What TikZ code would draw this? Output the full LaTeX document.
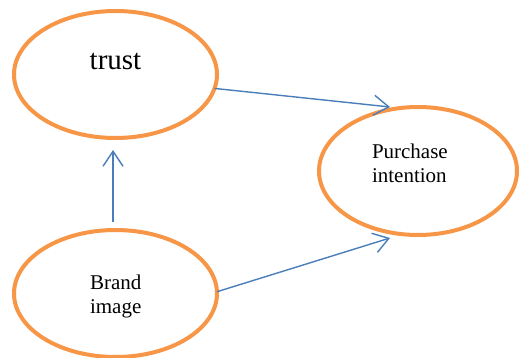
\documentclass[tikz,border=0pt]{standalone}
\usepackage{fontspec}
\setmainfont{Liberation Serif}
\usetikzlibrary{shapes.geometric,arrows.meta}
\definecolor{orng}{HTML}{F79646}
\definecolor{blu}{HTML}{4A7EBB}
\begin{document}
\begin{tikzpicture}[x=1pt,y=-1pt,
  oval/.style={ellipse, draw=orng, line width=4pt, outer sep=0pt, inner sep=0pt, fill=white},
  arr/.style={draw=blu, line width=1.4pt, -{Straight Barb[length=15pt,width=20pt]}},
  lbl/.style={font=\fontsize{21}{24}\selectfont}]
\useasboundingbox (0,0) rectangle (519,358);
\node[oval, minimum width=203pt, minimum height=127pt,
      font=\fontsize{29}{33}\selectfont, text height=0pt, text depth=9pt] (trust) at (115.5,74.5) {trust};
\node[oval, minimum width=198pt, minimum height=128pt, lbl,
      text height=0pt, text depth=24pt] (pi) at (418,171)
      {\parbox[t]{92pt}{\raggedright Purchase\\intention}};
\node[oval, minimum width=203pt, minimum height=127pt, lbl,
      text height=0pt, text depth=9pt] (brand) at (115.5,293.5)
      {\parbox[t]{51pt}{\raggedright Brand\\image}};
\coordinate (p1) at (390,107);
\coordinate (p2) at (390,238);
\draw[arr] (trust.-8) -- (p1);
\draw[arr] (brand.1) -- (p2);
\draw[arr] ([xshift=-2.5pt,yshift=8pt]brand.north) -- ([xshift=-2.5pt,yshift=-12pt]trust.south);
\end{tikzpicture}
\end{document}
